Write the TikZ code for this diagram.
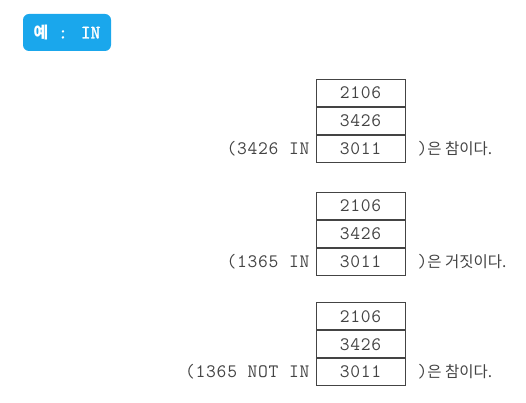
\documentclass[tikz,border=0pt]{standalone}
\usepackage{fontspec}
\setmonofont{Latin Modern Mono}[LetterSpace=4]
\newfontfamily\kor{Noto Sans CJK KR}
\newfontfamily\badgemono{Latin Modern Mono}[FakeBold=1.5]
\usetikzlibrary{positioning}
\definecolor{badgeblue}{HTML}{1AA7EC}
\definecolor{inkgray}{HTML}{444444}

\begin{document}
\begin{tikzpicture}[x=1pt,y=-1pt,node distance=0pt,
	cell/.style={draw=inkgray,line width=0.9pt,minimum width=89pt,minimum height=27pt,inner sep=0pt,
		text=inkgray,font=\fontsize{19}{22}\selectfont\ttfamily},
	lefttext/.style={anchor=base east,inner sep=0pt,text=inkgray,font=\fontsize{19}{22}\selectfont\ttfamily},
	righttext/.style={anchor=base west,inner sep=0pt,text=inkgray,font=\fontsize{19}{22}\selectfont\ttfamily}]
	\useasboundingbox (0,0) rectangle (526,403);
	\node[fill=badgeblue,rounded corners=6pt,minimum width=88pt,minimum height=37pt,text=white,
		font=\fontsize{19}{20}\selectfont\badgemono] (badge) at (67,32.5) {{\kor\fontsize{16}{18}\selectfont\bfseries 예} : IN};
	% first set
	\node[cell] (a1) at (360.5,92.8) {2106};
	\node[cell] (a2) [below=of a1] {3426};
	\node[cell] (a3) [below=of a2] {3011};
	\node[lefttext] (aleft) at ([xshift=-6pt]a3.base west) {(3426 IN};
	\node[righttext] (aright) at ([xshift=12pt]a3.base east) {)\kor\fontsize{15.5}{18}\selectfont 은 참이다.};
	% second set
	\node[cell] (b1) at (360.5,205.8) {2106};
	\node[cell] (b2) [below=of b1] {3426};
	\node[cell] (b3) [below=of b2] {3011};
	\node[lefttext] (bleft) at ([xshift=-6pt]b3.base west) {(1365 IN};
	\node[righttext] (bright) at ([xshift=12pt]b3.base east) {)\kor\fontsize{15.5}{18}\selectfont 은 거짓이다.};
	% third set
	\node[cell] (c1) at (360.5,316.3) {2106};
	\node[cell] (c2) [below=of c1] {3426};
	\node[cell] (c3) [below=of c2] {3011};
	\node[lefttext] (cleft) at ([xshift=-6pt]c3.base west) {(1365 NOT IN};
	\node[righttext] (cright) at ([xshift=12pt]c3.base east) {)\kor\fontsize{15.5}{18}\selectfont 은 참이다.};
\end{tikzpicture}
\end{document}
